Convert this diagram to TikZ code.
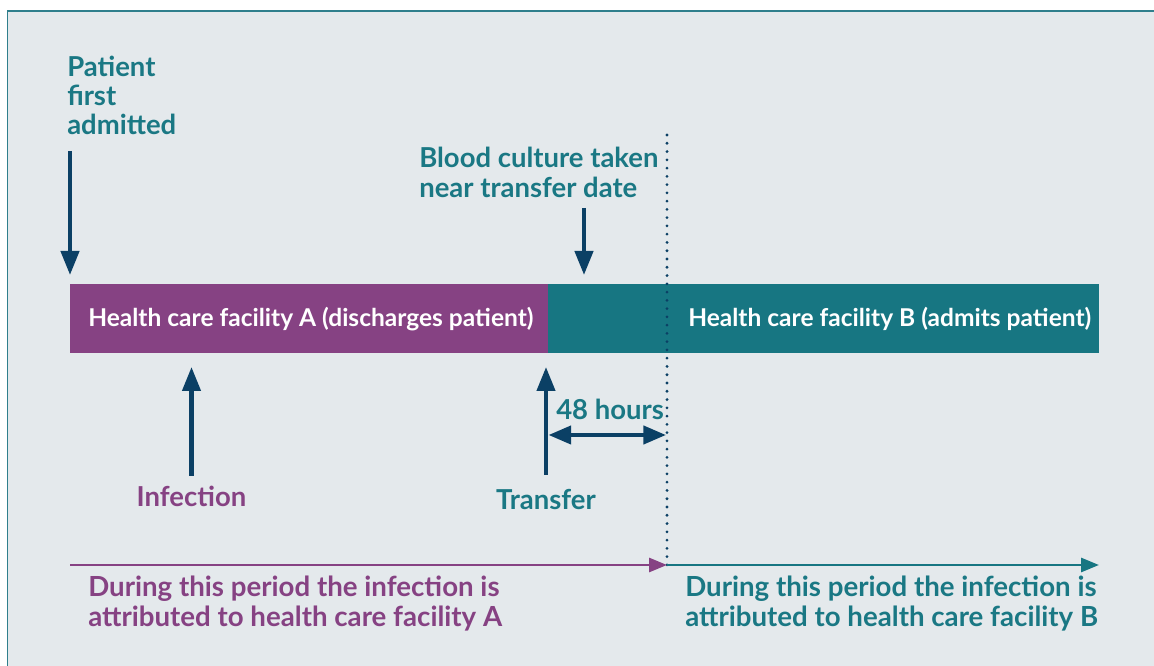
\documentclass[tikz,border=0pt]{standalone}
\usepackage{fontspec}
\setmainfont{Lato}
\usetikzlibrary{arrows.meta}
\definecolor{bg}{HTML}{E4E9EC}
\definecolor{frame}{HTML}{2F7F8C}
\definecolor{purp}{HTML}{864283}
\definecolor{tealbar}{HTML}{177682}
\definecolor{tealtxt}{HTML}{1A7884}
\definecolor{navy}{HTML}{0B4065}
\tikzset{
  px/.style={x=0.75pt,y=-0.75pt},
  head/.style={inner sep=0pt, font=\fontsize{20.6pt}{21.75pt}\selectfont\bfseries, text=tealtxt, align=left},
  bartext/.style={inner sep=0pt, font=\fontsize{18.4pt}{21pt}\selectfont\bfseries, text=white, anchor=base west},
  bottomtext/.style={inner sep=0pt, font=\fontsize{20.75pt}{22.5pt}\selectfont\bfseries, align=left, anchor=base west},
  bigarrow/.style={navy, line width=3.2pt, -{Triangle[length=18pt,width=13.5pt]}},
  dblarrow/.style={navy, line width=3.2pt, {Triangle[length=17pt,width=13.5pt]}-{Triangle[length=17pt,width=13.5pt]}},
  periodarrow/.style={line width=2.2pt, -{Triangle[length=13.5pt,width=10.5pt]}},
  barbox/.style={inner sep=0pt, anchor=north west, minimum height=51.75pt}
}
\begin{document}
\begin{tikzpicture}[px]
\useasboundingbox (0,0) rectangle (1154,666);
\fill[white] (0,0) rectangle (1154,666);
\fill[bg] (7.5,11) rectangle (1160,672);
\draw[frame, line width=1.3pt] (7.5,672) -- (7.5,11) -- (1160,11);

% bars
\node[barbox, fill=purp, minimum width=358.5pt] (barA) at (70,284) {};
\node[barbox, fill=tealbar, minimum width=413.25pt] (barB) at (548,284) {};
\node[bartext] (barAtxt) at (88,327) {Health care facility A (discharges patient)};
\node[bartext] (barBtxt) at (688,327) {Health care facility B (admits patient)};

% dotted divider
\coordinate (dtop) at (667,135);
\coordinate (dbot) at (667,565);
\draw[navy, line width=2.3pt, line cap=round, dash pattern=on 0pt off 6.2pt] (dtop) -- (dbot);

% patient first admitted
\node[head, anchor=base west] (patient) at (67,135) {Patient\\first\\admitted};
\coordinate (pA) at (70,151);
\coordinate (pB) at (70,275);
\draw[bigarrow] (pA) -- (pB);

% blood culture
\node[head, anchor=base west, font=\fontsize{20.6pt}{23pt}\selectfont\bfseries] (blood) at (419,198) {Blood culture taken\\near transfer date};
\coordinate (bA) at (584,208);
\coordinate (bB) at (584,275);
\draw[bigarrow] (bA) -- (bB);

% infection
\node[head, anchor=base, text=purp] (infection) at (191.5,507) {Infection};
\coordinate (iA) at (191.5,476);
\coordinate (iB) at (191.5,367);
\draw[bigarrow] (iA) -- (iB);

% transfer
\node[head, anchor=base] (transfer) at (546,510) {Transfer};
\coordinate (tA) at (546,475);
\coordinate (tB) at (546,367);
\draw[bigarrow] (tA) -- (tB);

% 48 hours
\node[head, anchor=base west] (hours) at (556,420) {48 hours};
\coordinate (hA) at (548.5,435);
\coordinate (hB) at (666,435);
\draw[dblarrow] (hA) -- (hB);

% period arrows
\coordinate (pa0) at (70,565);
\draw[periodarrow, purp] (pa0) -- (dbot);
\coordinate (pb1) at (1099,565);
\draw[periodarrow, tealbar] (dbot) -- (pb1);

\node[bottomtext, text=purp] (periodA) at (88,627) {During this period the infection is\\attributed to health care facility A};
\node[bottomtext, text=tealtxt] (periodB) at (685,627) {During this period the infection is\\attributed to health care facility B};
\end{tikzpicture}
\end{document}
